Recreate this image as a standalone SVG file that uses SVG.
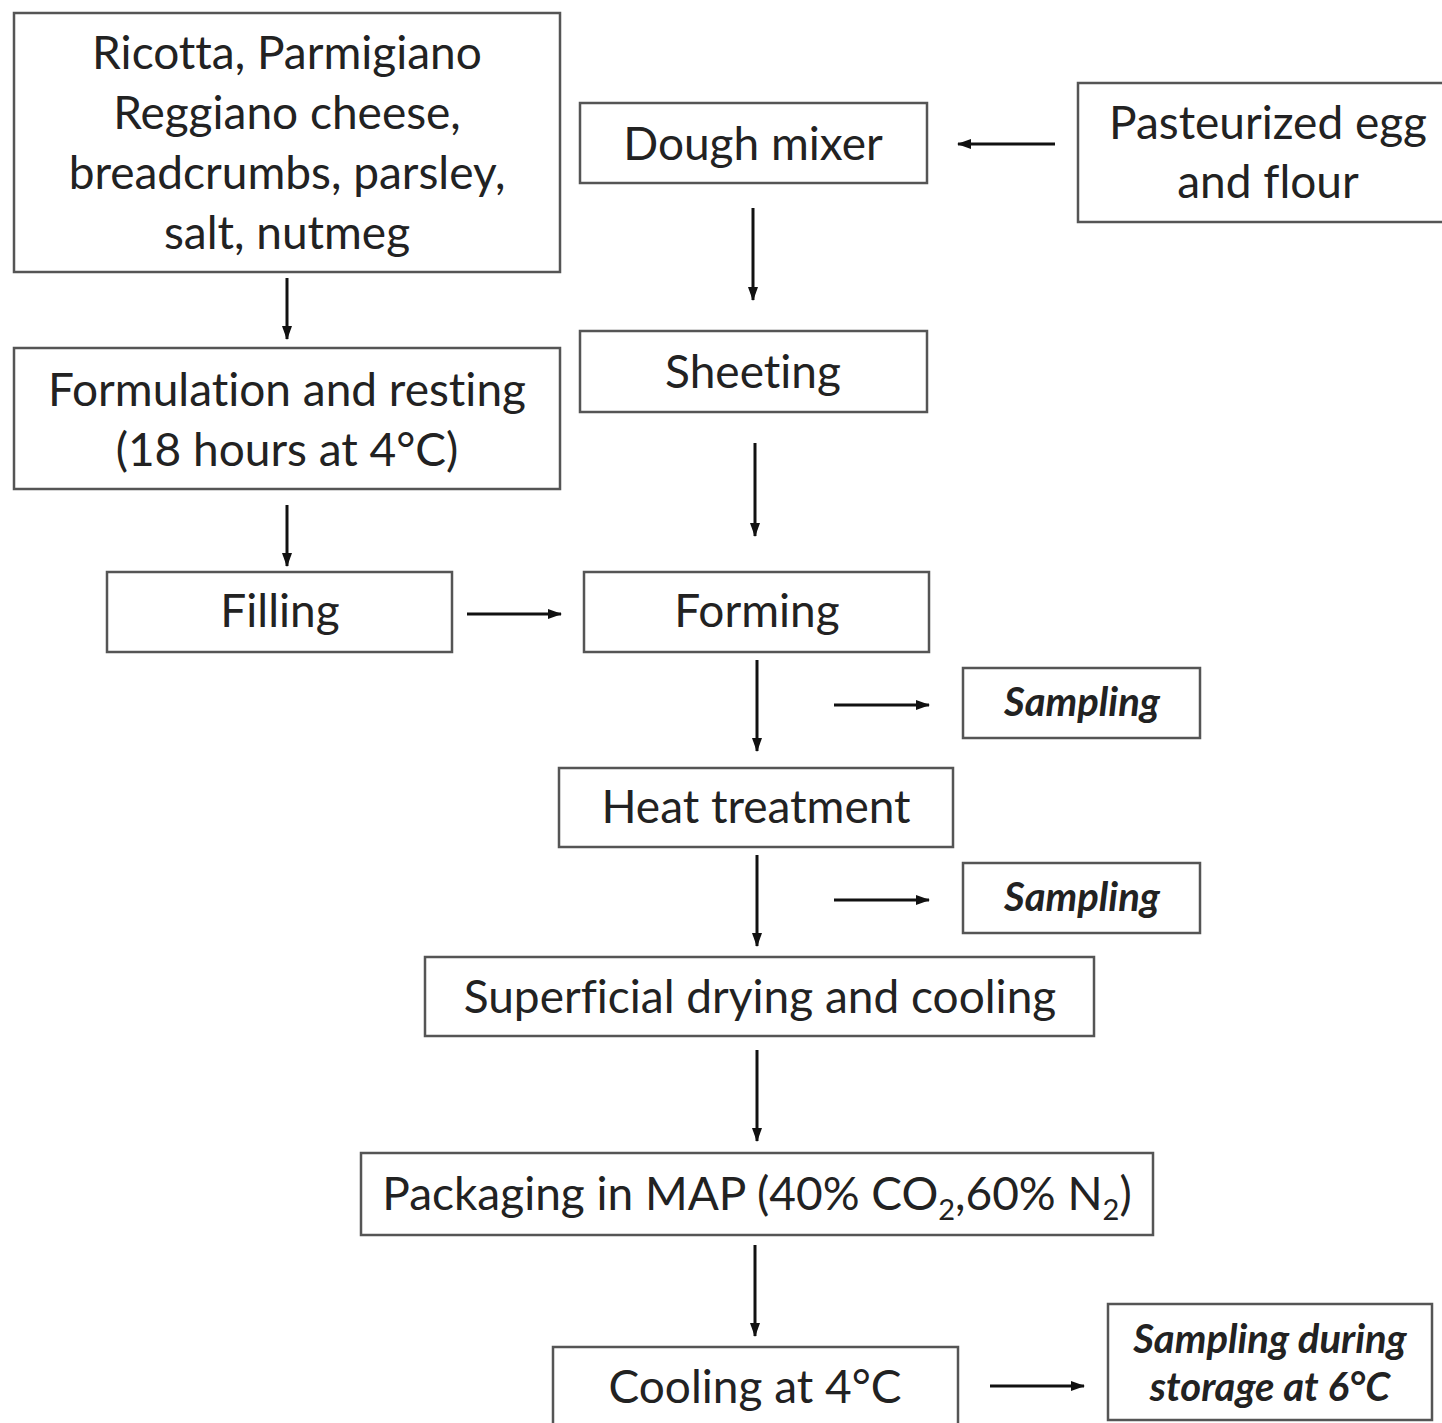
<svg xmlns="http://www.w3.org/2000/svg" width="1442" height="1423" viewBox="0 0 1442 1423">
<style>
.box{fill:#fff;stroke:#555;stroke-width:2.5}
text{font-variant-ligatures:none;font-feature-settings:"liga" 0,"dlig" 0}
.t{font-family:Lato,"Open Sans",sans-serif;font-size:46px;fill:#222;text-anchor:middle}
.s{font-family:Lato,"Open Sans",sans-serif;font-size:40px;fill:#222;text-anchor:middle;font-weight:bold;font-style:italic}
.c{stroke:#111;stroke-width:3;fill:none;marker-end:url(#ah)}
</style>
<defs>
<marker id="ah" viewBox="0 0 14 10" refX="13" refY="5" markerWidth="14" markerHeight="10" markerUnits="userSpaceOnUse" orient="auto">
<path d="M0,0 L14,5 L0,10 Z" fill="#111"/>
</marker>
</defs>
<rect width="1442" height="1423" fill="#fff"/>
<g id="ingredients"><rect class="box" x="14" y="13" width="546" height="259"/>
<text class="t" x="287" y="69">Ricotta, Parmigiano</text>
<text class="t" x="287" y="129">Reggiano cheese,</text>
<text class="t" x="287" y="189">breadcrumbs, parsley,</text>
<text class="t" x="287" y="249">salt, nutmeg</text></g>
<g id="dough"><rect class="box" x="580" y="103" width="347" height="80"/><text class="t" x="753" y="160">Dough mixer</text></g>
<g id="egg"><rect class="box" x="1078" y="83" width="370" height="139"/>
<text class="t" x="1268" y="139">Pasteurized egg</text><text class="t" x="1268" y="198">and flour</text></g>
<g id="sheeting"><rect class="box" x="580" y="331" width="347" height="81"/><text class="t" x="753" y="388">Sheeting</text></g>
<g id="formulation"><rect class="box" x="14" y="348" width="546" height="141"/>
<text class="t" x="287" y="406">Formulation and resting</text><text class="t" x="287" y="466">(18 hours at 4°C)</text></g>
<g id="filling"><rect class="box" x="107" y="572" width="345" height="80"/><text class="t" x="280" y="627">Filling</text></g>
<g id="forming"><rect class="box" x="584" y="572" width="345" height="80"/><text class="t" x="757" y="627">Forming</text></g>
<g id="sampling1"><rect class="box" x="963" y="668" width="237" height="70"/><text class="s" x="1082" y="716">Sampling</text></g>
<g id="heat"><rect class="box" x="559" y="768" width="394" height="79"/><text class="t" x="756" y="823">Heat treatment</text></g>
<g id="sampling2"><rect class="box" x="963" y="863" width="237" height="70"/><text class="s" x="1082" y="911">Sampling</text></g>
<g id="drying"><rect class="box" x="425" y="957" width="669" height="79"/><text class="t" x="760" y="1013">Superficial drying and cooling</text></g>
<g id="packaging"><rect class="box" x="361" y="1153" width="792" height="82"/><text class="t" x="757" y="1210">Packaging in MAP (40% CO<tspan font-size="29" dy="10">2</tspan><tspan dy="-10">,60% N</tspan><tspan font-size="29" dy="10">2</tspan><tspan dy="-10">)</tspan></text></g>
<g id="cooling"><rect class="box" x="553" y="1347" width="405" height="90"/><text class="t" x="755" y="1403">Cooling at 4°C</text></g>
<g id="storage"><rect class="box" x="1108" y="1304" width="324" height="116"/>
<text class="s" x="1270" y="1353">Sampling during</text><text class="s" x="1270" y="1401">storage at 6°C</text></g>
<g id="connectors">
<line class="c" x1="1055" y1="144" x2="958" y2="144"/>
<line class="c" x1="753" y1="208" x2="753" y2="300"/>
<line class="c" x1="755" y1="443" x2="755" y2="536"/>
<line class="c" x1="287" y1="278" x2="287" y2="339"/>
<line class="c" x1="287" y1="505" x2="287" y2="566"/>
<line class="c" x1="467" y1="614" x2="561" y2="614"/>
<line class="c" x1="757" y1="660" x2="757" y2="751"/>
<line class="c" x1="834" y1="705" x2="929" y2="705"/>
<line class="c" x1="757" y1="855" x2="757" y2="946"/>
<line class="c" x1="834" y1="900" x2="929" y2="900"/>
<line class="c" x1="757" y1="1050" x2="757" y2="1141"/>
<line class="c" x1="755" y1="1245" x2="755" y2="1336"/>
<line class="c" x1="990" y1="1386" x2="1084" y2="1386"/>
</g>
</svg>
